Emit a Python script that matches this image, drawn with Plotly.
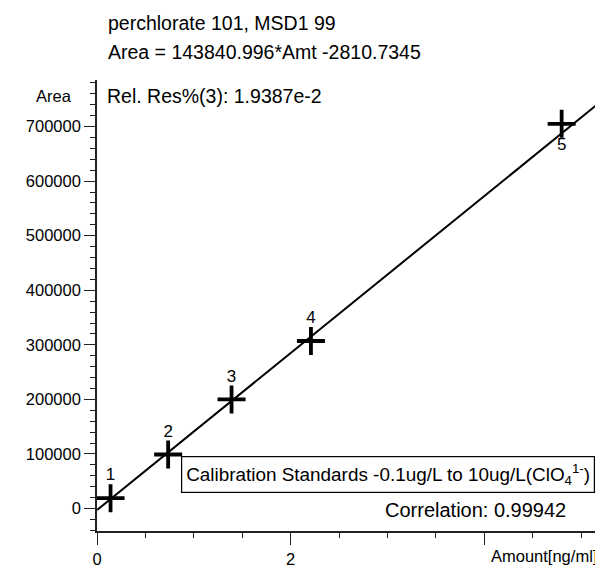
import plotly.graph_objects as go

# ---- data ----
amounts = [0.14, 0.735, 1.39, 2.21, 4.80]
areas = [19000, 99000, 200000, 307000, 705000]
point_labels = ["1", "2", "3", "4", "5"]

fit_slope = 143840.996
fit_intercept = -2810.7345
fit_amount_range = [0.0, 5.4]

y_tick_vals = [0, 100000, 200000, 300000, 400000, 500000, 600000, 700000]
y_tick_text = ["0", "100000", "200000", "300000", "400000", "500000", "600000", "700000"]
x_tick_vals = [0, 2, 4]
x_tick_text = ["0", "2", ""]

title_line1 = "perchlorate 101, MSD1 99"
title_line2 = "Area = 143840.996*Amt -2810.7345"
rel_res_text = "Rel. Res%(3): 1.9387e-2"
legend_text = "Calibration Standards -0.1ug/L to 10ug/L(ClO<sub>4</sub><sup>1-</sup>)"
correlation_text = "Correlation: 0.99942"
x_title = "Amount[ng/ml]"
y_title = "Area"

fit_x = fit_amount_range
fit_y = [fit_slope * a + fit_intercept for a in fit_x]

FONT = "Liberation Sans, Arial, Helvetica, sans-serif"

# page body has an 8px margin: figure sits at (8, 8) in the window
OFF = 8
WIN_W, WIN_H = 603, 568
W, H = WIN_W - OFF, WIN_H - OFF
# plot area in window pixels
P_L, P_R, P_T, P_B = 97, 603, 80, 535


def px(x):
    return (x - P_L) / (P_R - P_L)


def py(y):
    return (P_B - y) / (P_B - P_T)


fig = go.Figure()

fig.add_trace(go.Scatter(
    x=fit_x, y=fit_y, mode="lines",
    line=dict(color="black", width=2), hoverinfo="skip", showlegend=False,
))

text_pos = ["top center"] * (len(amounts) - 1) + ["bottom center"]
fig.add_trace(go.Scatter(
    x=amounts, y=areas, mode="markers+text",
    marker=dict(symbol="cross-thin", size=20, line=dict(color="black", width=3.8), color="black"),
    text=point_labels, textposition=text_pos,
    textfont=dict(family=FONT, size=17, color="black"),
    showlegend=False, cliponaxis=False,
))

fig.update_layout(
    width=W, height=H,
    margin=dict(l=P_L - OFF, r=WIN_W - P_R, t=P_T - OFF, b=WIN_H - P_B),
    paper_bgcolor="white", plot_bgcolor="white",
    font=dict(family=FONT, color="black"),
    xaxis=dict(
        range=[0, 5.227], showline=True, linecolor="#222", linewidth=1.6,
        ticks="outside", ticklen=12, tickwidth=1.4, tickcolor="#222",
        tickvals=x_tick_vals, ticktext=x_tick_text,
        tickfont=dict(family=FONT, size=16.5, color="black"),
        minor=dict(dtick=0.5, ticks="outside", ticklen=5, tickwidth=1.3, tickcolor="#222"),
        showgrid=False, zeroline=False, fixedrange=True,
    ),
    yaxis=dict(
        range=[-41240, 785400], showline=True, linecolor="#222", linewidth=1.6,
        ticks="outside", ticklen=11, tickwidth=1.4, tickcolor="#222",
        tickvals=y_tick_vals, ticktext=y_tick_text,
        tickfont=dict(family=FONT, size=16.5, color="black"),
        minor=dict(dtick=20000, ticks="outside", ticklen=5, tickwidth=1.3, tickcolor="#222"),
        showgrid=False, zeroline=False, fixedrange=True,
    ),
)

big = dict(family=FONT, size=19.5, color="black")
fig.add_annotation(xref="paper", yref="paper", x=px(106), y=py(22), text=title_line1,
                   showarrow=False, xanchor="left", yanchor="middle", font=big)
fig.add_annotation(xref="paper", yref="paper", x=px(106), y=py(52), text=title_line2,
                   showarrow=False, xanchor="left", yanchor="middle", font=big)
fig.add_annotation(xref="paper", yref="paper", x=px(74), y=py(96), text=y_title,
                   showarrow=False, xanchor="right", yanchor="middle",
                   font=dict(family=FONT, size=16.5, color="black"))
fig.add_annotation(xref="paper", yref="paper", x=px(105), y=py(96), text=rel_res_text,
                   showarrow=False, xanchor="left", yanchor="middle", font=big)
fig.add_annotation(xref="paper", yref="paper", x=px(387.5), y=py(478), text=legend_text,
                   showarrow=False, xanchor="center", yanchor="middle",
                   bordercolor="black", borderwidth=1.2, borderpad=4, bgcolor="white",
                   font=dict(family=FONT, size=18.9, color="black"))
fig.add_annotation(xref="paper", yref="paper", x=px(568), y=py(514), text=correlation_text,
                   showarrow=False, xanchor="right", yanchor="middle",
                   font=dict(family=FONT, size=20, color="black"))
fig.add_annotation(xref="paper", yref="paper", x=px(599), y=py(560), text=x_title,
                   showarrow=False, xanchor="right", yanchor="middle",
                   font=dict(family=FONT, size=16.5, color="black"))

fig.write_html("out.html")
